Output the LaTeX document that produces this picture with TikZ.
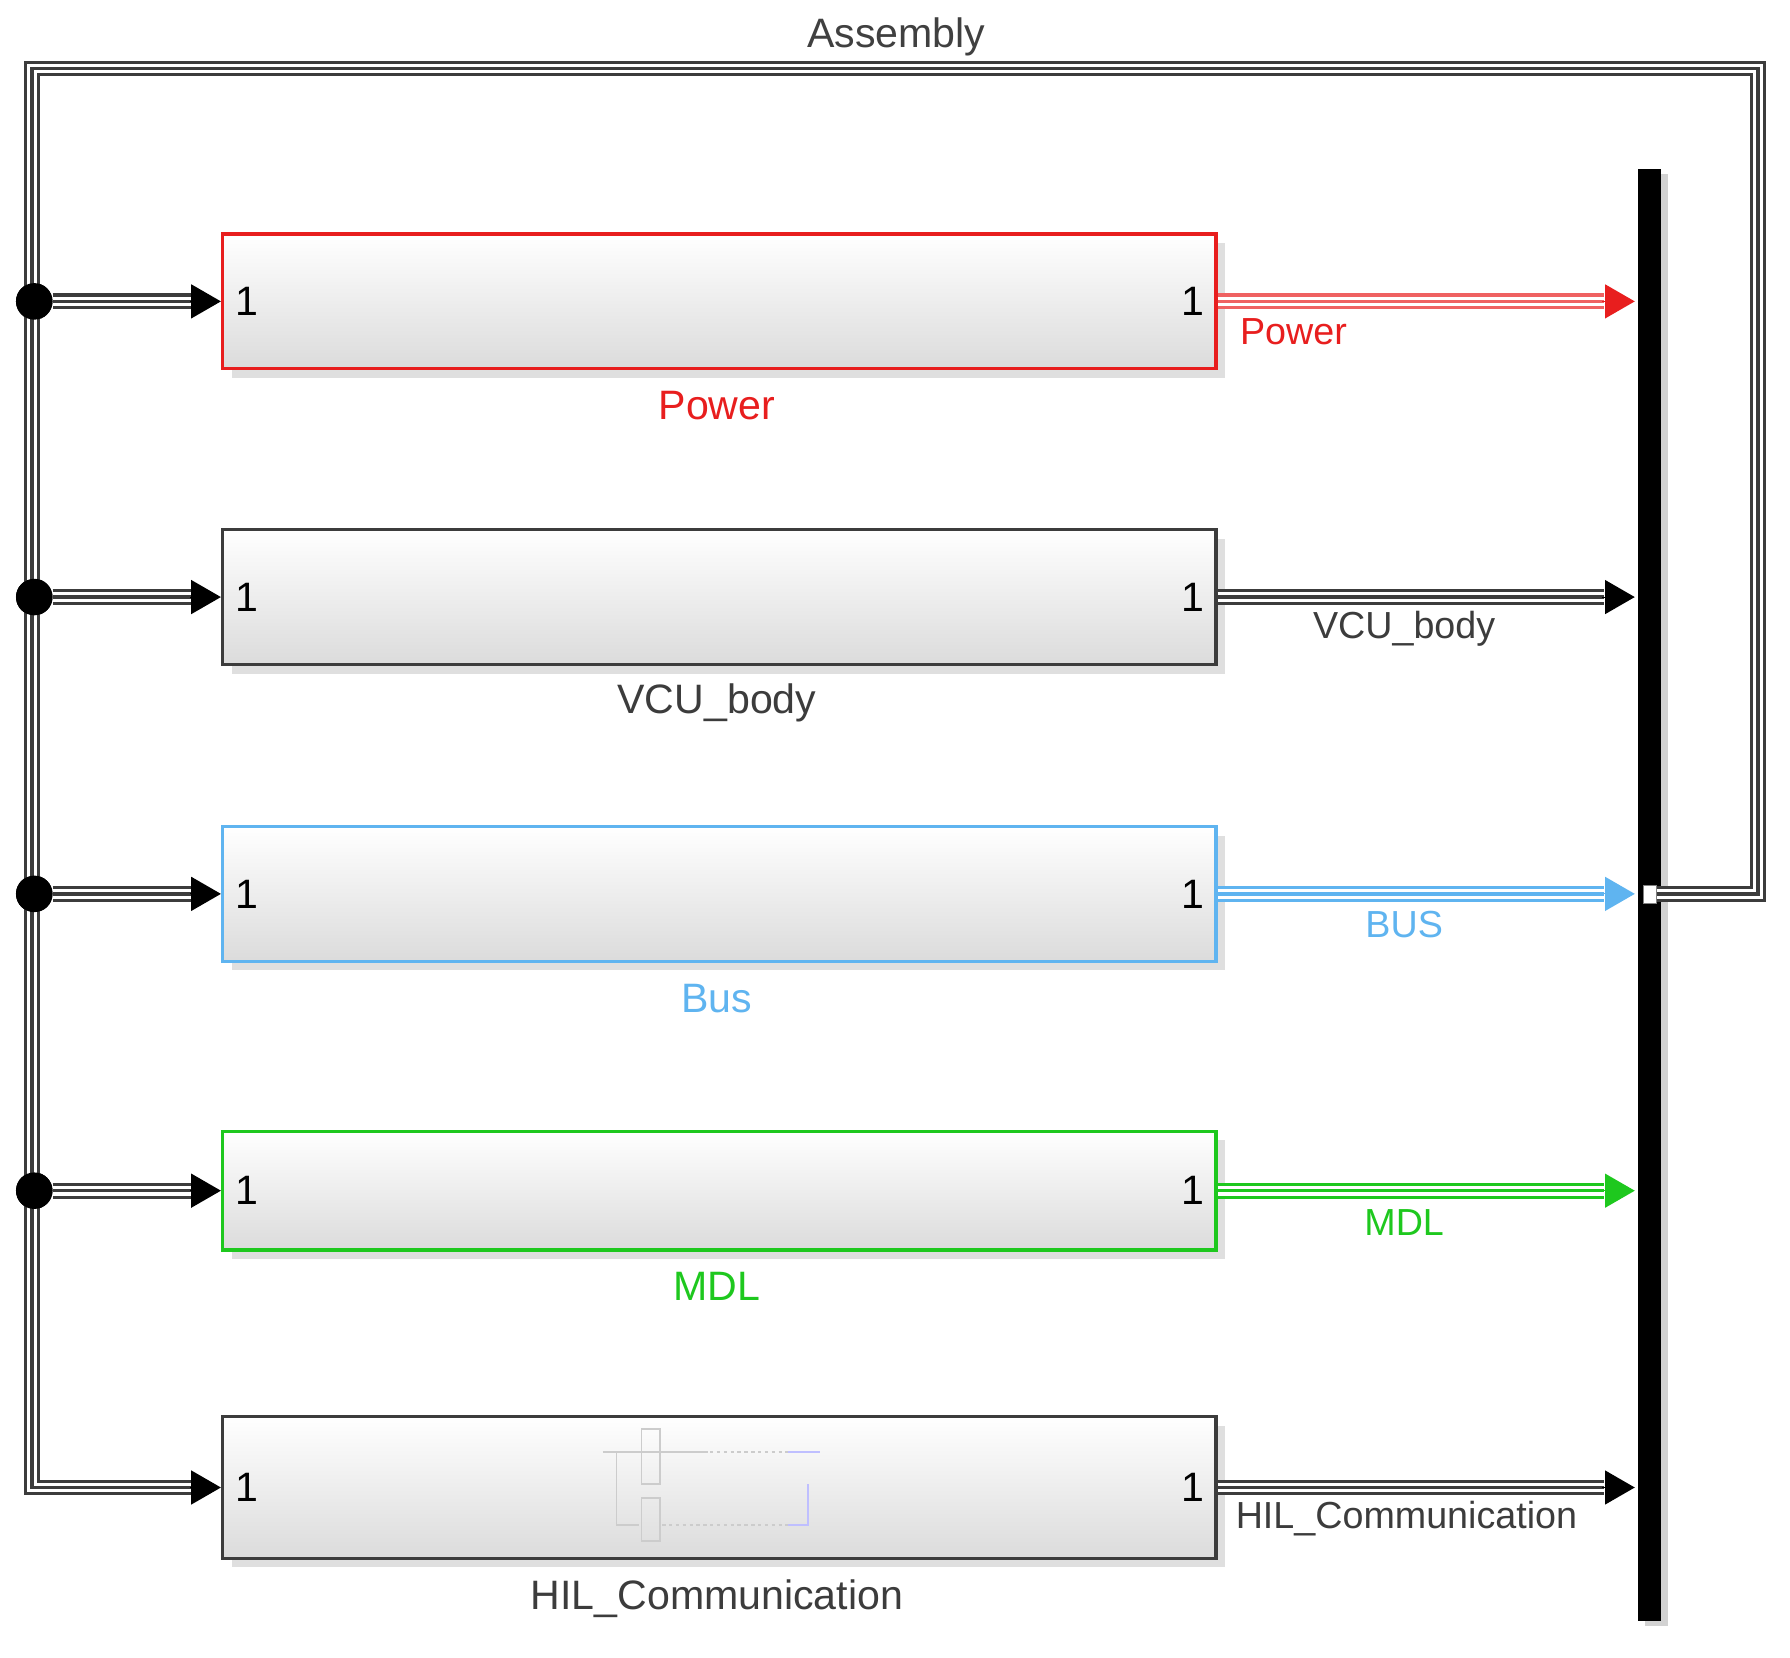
\documentclass[tikz,border=0pt]{standalone}
\usepackage{fontspec}
\setmainfont{Liberation Sans}
\usetikzlibrary{arrows.meta}
\definecolor{pred}{RGB}{232,30,30}
\definecolor{pblue}{RGB}{95,180,240}
\definecolor{pgreen}{RGB}{30,200,30}
\definecolor{dgr}{RGB}{60,60,60}
\begin{document}
\begin{tikzpicture}[x=1pt,y=-1pt,
  bus/.style={draw=#1, line width=14pt, line join=miter,
    postaction={draw=white,line width=8.5pt,arrows=-},
    postaction={draw=#1,line width=3pt,arrows=-}},
  tip/.style={-{Triangle[length=26pt 0,width=30pt 0]}},
  blk/.style={draw=#1, line width=3pt, minimum width=870pt, minimum height=118pt,
    top color=white, bottom color=gray!28, inner sep=0pt},
  lbl/.style={font=\fontsize{36}{42}\selectfont, text=#1, inner sep=0pt},
  slbl/.style={font=\fontsize{33}{40}\selectfont, text=#1, inner sep=0pt},
  dot/.style={circle, fill=black, minimum size=32pt, inner sep=0pt}]
\useasboundingbox (0,0) rectangle (1568,1452);
\fill[white] (0,0) rectangle (1568,1452);
% bar
\fill[gray!35] (1441,152) rectangle (1461,1424);
\node[fill=black, minimum width=20pt, minimum height=1272pt, inner sep=0pt] (bar) at (1445,784) {};
\node[fill=white, draw=gray, minimum width=12pt, minimum height=16pt, inner sep=0pt] (bport) at (1445,783) {};
% blocks with shadows
\foreach \yy/\h in {264/118, 523/118, 783/118, 1043/104, 1303/124}{
  \fill[gray!25] (203,\yy-\h/2+8) rectangle (1073,\yy+\h/2+8);}
\node[blk=pred] (p) at (630,264) {};
\node[blk=dgr] (v) at (630,523) {};
\node[blk=pblue] (b) at (630,783) {};
\node[blk=pgreen, minimum height=104pt] (m) at (630,1043) {};
\node[blk=dgr, minimum height=124pt] (h) at (630,1303) {};
\foreach \n/\y in {p/264,v/523,b/783,m/1043,h/1303}{
  \node[lbl=black] at (216,\y) {1};
  \node[lbl=black] at (1045,\y) {1};}
% faint thumbnail
\begin{scope}[gray!40, line width=1.5pt]
\draw (528,1272) -- (620,1272) (540,1272) -- (540,1336) -- (560,1336);
\draw (562,1252) rectangle (578,1300) (562,1312) rectangle (578,1350);
\draw[dashed] (580,1272) -- (710,1272) (580,1336) -- (700,1336);
\draw[blue!25] (690,1272) -- (718,1272) (708,1300) -- (708,1336) -- (690,1336);
\end{scope}
% coordinates
\coordinate (top1) at (28,60); \coordinate (top2) at (1540,60);
\coordinate (rr) at (1540,783); \coordinate (bl) at (28,1303);
\foreach \n/\y in {1/264,2/523,3/783,4/1043}{\node[dot] (j\n) at (30,\y) {};}
% loop
\draw[bus=dgr] (bport.east) -- (rr) -- (top2) -- (top1) -- (bl) -- ([xshift=-26pt]h.west);
\draw[tip, draw=black, line width=0pt] ([xshift=-27pt]h.west) -- (h.west);
\foreach \n/\t in {1/p,2/v,3/b,4/m}{
  \draw[bus=dgr] (j\n) -- ([xshift=-26pt]\t.west);
  \draw[tip, draw=black, line width=0pt] ([xshift=-27pt]\t.west) -- (\t.west);
  \node[dot] at (j\n) {};}
% outputs
\foreach \t/\c/\y in {p/pred!70/264, v/dgr/523, b/pblue/783, m/pgreen/1043, h/dgr/1303}{
  \draw[bus=\c] (\t.east) -- (1405,\y);}
\foreach \t/\c/\y in {p/pred/264, v/black/523, b/pblue/783, m/pgreen/1043, h/black/1303}{
  \coordinate (e\t) at (1432,\y);
  \draw[tip, draw=\c, fill=\c, line width=0pt] (1404,\y) -- (e\t);}
% labels
\node[lbl=black!75] (la) at (785,32) {Assembly};
\node[slbl=pred] at (1133,291) {Power};
\node[slbl=dgr] at (1230,551) {VCU\_body};
\node[slbl=pblue] at (1230,810) {BUS};
\node[slbl=pgreen] at (1230,1071) {MDL};
\node[slbl=dgr] at (1232,1330) {HIL\_Communication};
\node[lbl=pred] at (628,355) {Power};
\node[lbl=dgr] at (628,616) {VCU\_body};
\node[lbl=pblue] at (628,875) {Bus};
\node[lbl=pgreen] at (628,1127) {MDL};
\node[lbl=dgr] at (628,1400) {HIL\_Communication};
\end{tikzpicture}
\end{document}
